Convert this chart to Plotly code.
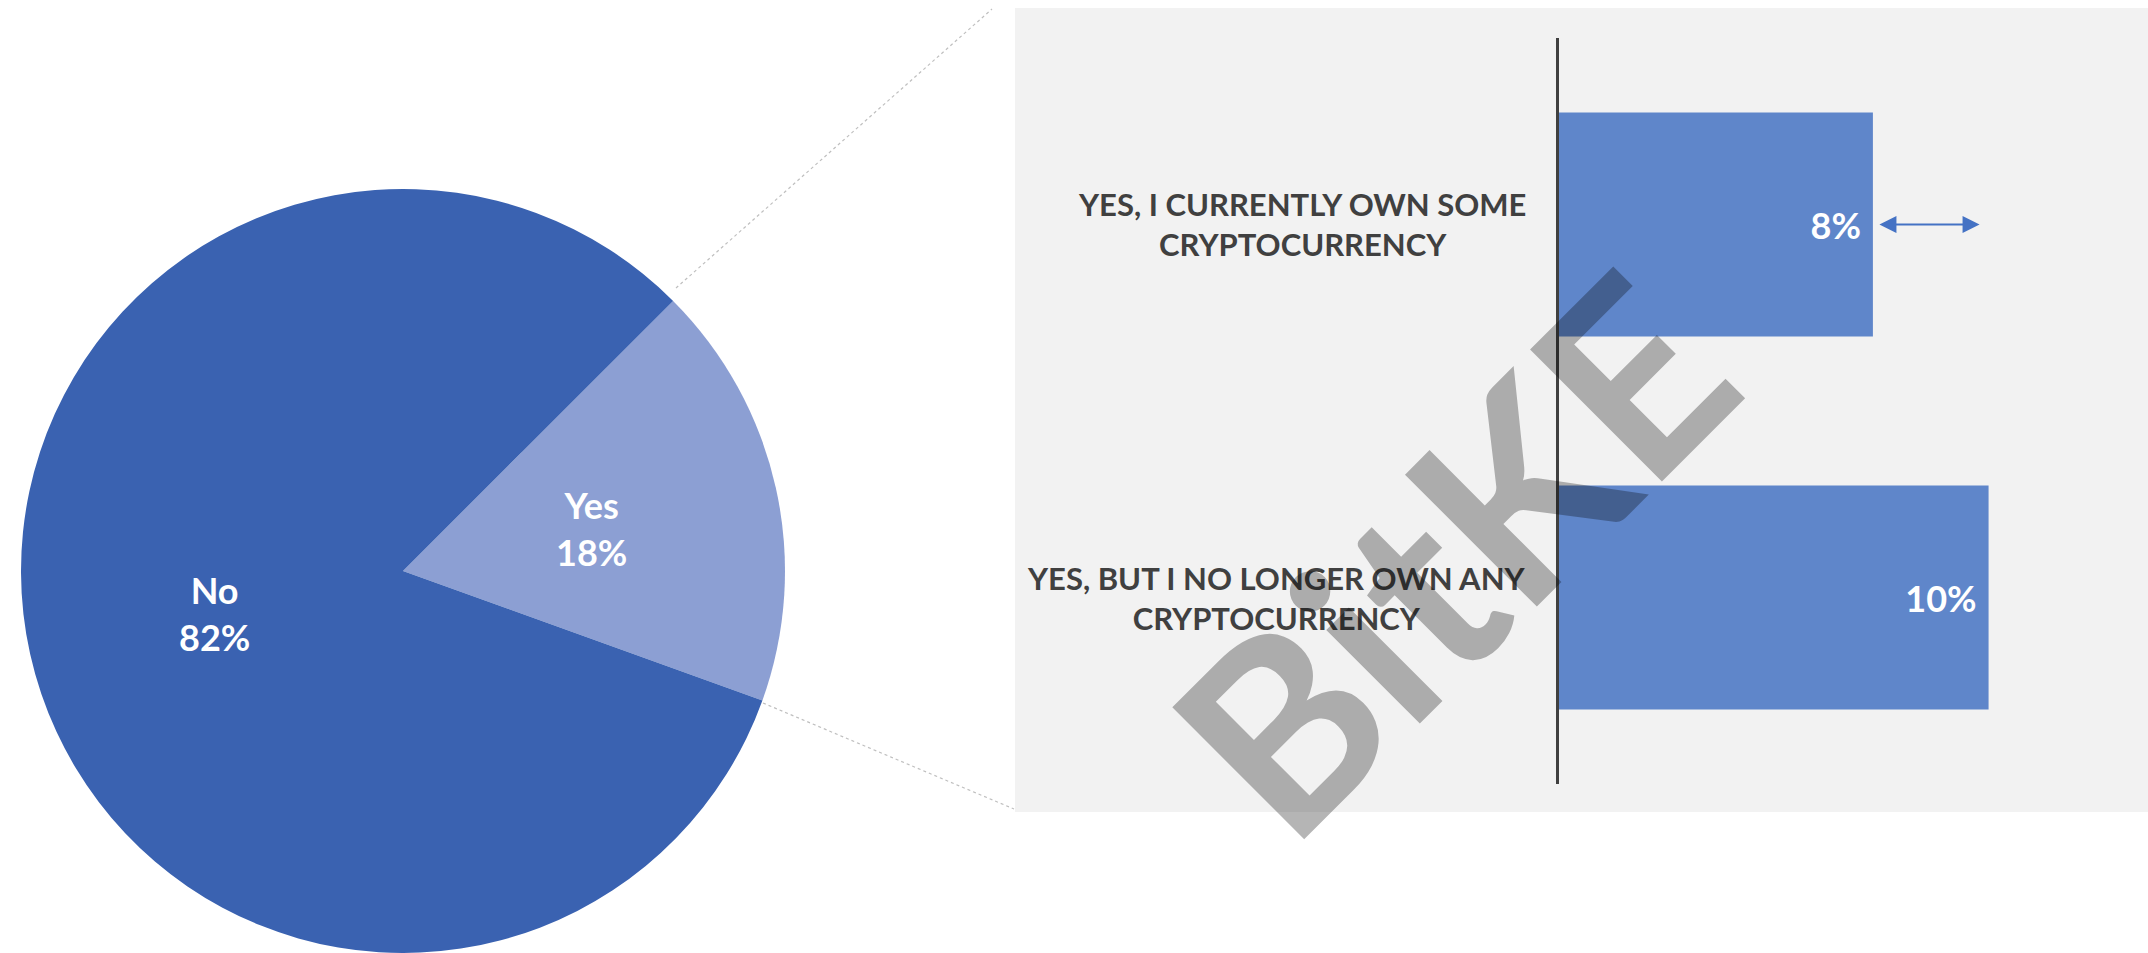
import math
import plotly.graph_objects as go

W, H = 2148, 953

# ---- data ----
pie_labels = ["Yes", "No"]
pie_values = [18, 82]
pie_colors = ["#8C9FD3", "#3A62B1"]

bar_categories = ["YES, I CURRENTLY OWN SOME CRYPTOCURRENCY",
                  "YES, BUT I NO LONGER OWN ANY CRYPTOCURRENCY"]
bar_tick_labels = ["YES, I CURRENTLY OWN SOME<br>CRYPTOCURRENCY",
                   "YES, BUT I NO LONGER OWN ANY<br>CRYPTOCURRENCY"]
bar_values = [7.6, 10.4]
bar_text = [f"{v:.0f}%\u2009\u2009" for v in bar_values]

watermark = "BitKE"

FONT = "Lato"

def px(x):
    return x / W

def py(y):
    return 1 - y / H

# pie geometry (domain)
PIE_L, PIE_R, PIE_T, PIE_B = 21, 785, 189, 953
ROTATION = 45

fig = go.Figure()

fig.add_trace(go.Pie(
    labels=pie_labels,
    values=pie_values,
    sort=False,
    direction="clockwise",
    rotation=ROTATION,
    marker=dict(colors=pie_colors, line=dict(width=0)),
    textinfo="none",
    domain=dict(x=[px(PIE_L), px(PIE_R)], y=[py(PIE_B), py(PIE_T)]),
    showlegend=False,
    hoverinfo="label+percent",
))

fig.add_trace(go.Bar(
    y=bar_categories,
    x=bar_values,
    orientation="h",
    marker=dict(color="#5F86CA", line=dict(width=0)),
    text=bar_text,
    textposition="inside",
    insidetextanchor="end",
    textfont=dict(family=FONT, size=36, color="white", weight="bold"),
    showlegend=False,
    xaxis="x", yaxis="y",
))

annotations = []

# pie labels placed at half radius along each slice's mid-angle (derived from values)
cx, cy = (PIE_L + PIE_R) / 2, (PIE_T + PIE_B) / 2
r = min(PIE_R - PIE_L, PIE_B - PIE_T) / 2
total = sum(pie_values)
cum = 0
for lab, v in zip(pie_labels, pie_values):
    mid = math.radians(90 - ROTATION - 360 * (cum + v / 2) / total)
    cum += v
    lx = cx + 0.505 * r * math.cos(mid)
    ly = cy - 0.505 * r * math.sin(mid)
    annotations.append(dict(
        xref="paper", yref="paper", x=px(lx), y=py(ly), xanchor="center", yanchor="middle",
        text=f"<b>{lab}<br>{v / total * 100:.0f}%</b>", showarrow=False, align="center",
        font=dict(family=FONT, size=36, color="white"),
    ))

for cat, lab in zip(bar_categories, bar_tick_labels):
    annotations.append(dict(
        xref="x domain", yref="y", x=0, y=cat, xanchor="right", yanchor="middle",
        xshift=-31, text=f"<b>{lab}</b>", align="center", showarrow=False,
        font=dict(family=FONT, size=31, color="#404040"),
    ))

# double-headed arrow between the two bar ends, at the first bar
annotations.append(dict(
    xref="x", yref="y", x=bar_values[1], y=bar_categories[0],
    axref="x", ayref="pixel", ax=bar_values[0], ay=0,
    text="", showarrow=True, arrowside="end+start",
    arrowhead=2, startarrowhead=2, arrowsize=1.7, arrowwidth=2,
    arrowcolor="#4472C4", standoff=9, startstandoff=5,
))

annotations.append(dict(
    xref="paper", yref="paper", x=px(1450), y=py(552),
    xanchor="center", yanchor="middle", text=f"<b>{watermark}</b>",
    textangle=-45, showarrow=False,
    font=dict(family=FONT, size=258, color="rgba(0,0,0,0.29)"),
))

shapes = [
    dict(type="rect", xref="paper", yref="paper", x0=px(1015), x1=1, y0=py(812), y1=py(8),
         fillcolor="#F2F2F2", line=dict(width=0), layer="below"),
    dict(type="line", xref="paper", yref="paper", x0=px(676), y0=py(288), x1=px(992), y1=py(9),
         line=dict(color="#BFBFBF", width=1.2, dash="dot")),
    dict(type="line", xref="paper", yref="paper", x0=px(763), y0=py(703), x1=px(1014), y1=py(809),
         line=dict(color="#BFBFBF", width=1.2, dash="dot")),
]

fig.update_layout(
    width=W, height=H,
    margin=dict(l=0, r=0, t=0, b=0),
    paper_bgcolor="white",
    plot_bgcolor="rgba(0,0,0,0)",
    bargap=0.4,
    xaxis=dict(domain=[px(1559), 1], range=[0, 14.26], visible=False, fixedrange=True),
    yaxis=dict(domain=[py(784), py(38)], autorange="reversed", showline=True,
               linecolor="#404040", linewidth=3, showgrid=False, zeroline=False,
               showticklabels=False, ticks="", fixedrange=True),
    annotations=annotations,
    shapes=shapes,
    font=dict(family=FONT),
)

fig.write_html("out.html")
